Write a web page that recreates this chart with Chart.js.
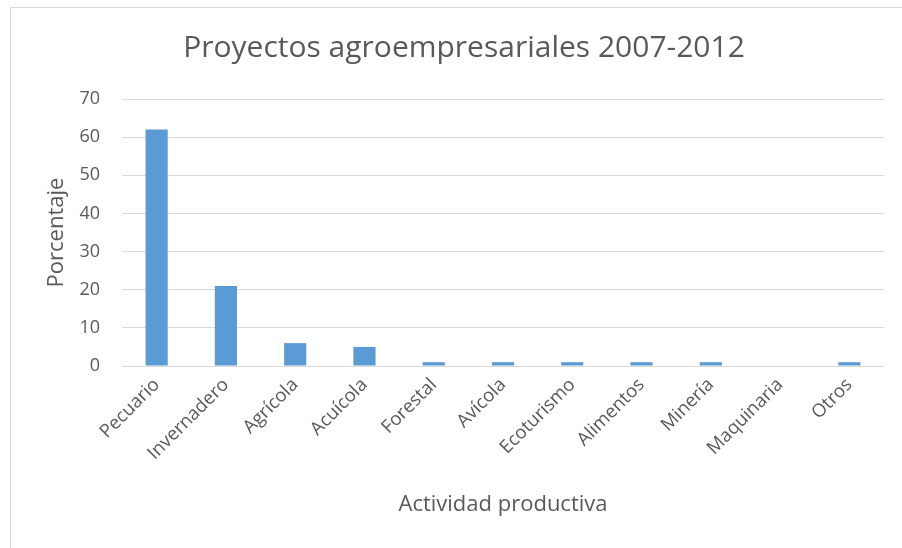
<!DOCTYPE html>
<html lang="es">
<head>
  <meta charset="UTF-8">
  <title>Proyectos agroempresariales 2007-2012</title>
  <script src="https://cdn.jsdelivr.net/npm/chart.js"></script>
  <style>
    body {
      margin: 0;
      background-color: #ffffff;
      font-family: "Open Sans", sans-serif;
    }
    .frame {
      position: absolute;
      left: 10px;
      top: 7px;
      width: 892px;
      height: 541px;
      border-left: 1px solid #d9d9d9;
      border-top: 1px solid #d9d9d9;
      box-sizing: border-box;
    }
    .chart-container {
      position: absolute;
      left: 0;
      top: 0;
      width: 902px;
      height: 548px;
    }
  </style>
</head>
<body>
  <div class="frame"></div>
  <div class="chart-container">
    <canvas id="agroChart"></canvas>
  </div>

  <script>
    // Data
    const categories = ["Pecuario", "Invernadero", "Agrícola", "Acuícola", "Forestal", "Avícola",
                        "Ecoturismo", "Alimentos", "Minería", "Maquinaria", "Otros"];
    const porcentaje = [62, 21, 6, 5, 1, 1, 1, 1, 1, 0, 1];
    const yTicks = [0, 10, 20, 30, 40, 50, 60, 70];

    const ctx = document.getElementById('agroChart').getContext('2d');
    new Chart(ctx, {
      type: 'bar',
      data: {
        labels: categories,
        datasets: [{
          label: "Porcentaje",
          data: porcentaje,
          backgroundColor: "#5b9bd5",
          borderWidth: 0,
          barPercentage: 0.32,
          categoryPercentage: 1.0
        }]
      },
      options: {
        responsive: true,
        maintainAspectRatio: false,
        animation: false,
        layout: {
          padding: { left: 44, right: 18, top: 0, bottom: 26 }
        },
        scales: {
          x: {
            grid: { display: false, drawTicks: false },
            border: { display: false },
            ticks: {
              color: "#595959",
              font: { family: "Open Sans", size: 18.5 },
              minRotation: 45,
              maxRotation: 45,
              padding: 8
            },
            title: {
              display: true,
              text: "Actividad productiva",
              color: "#595959",
              font: { family: "Open Sans", size: 22 },
              padding: { top: 4, bottom: 4 }
            },
            afterFit: axis => { axis.height = 156; }
          },
          y: {
            min: 0,
            max: 70,
            afterBuildTicks: axis => { axis.ticks = yTicks.map(v => ({ value: v })); },
            grid: { color: "#d9d9d9", lineWidth: 1, drawTicks: false },
            border: { display: false },
            ticks: {
              color: "#595959",
              font: { family: "Open Sans", size: 18 },
              padding: 22
            },
            title: {
              display: true,
              text: "Porcentaje",
              color: "#595959",
              font: { family: "Open Sans", size: 22 },
              padding: { top: 0, bottom: 0 }
            },
            afterFit: axis => { axis.width = 78; }
          }
        },
        plugins: {
          legend: { display: false },
          tooltip: { enabled: false },
          title: {
            display: true,
            text: "Proyectos agroempresariales 2007-2012",
            color: "#595959",
            font: { family: "Open Sans", size: 30, weight: "normal" },
            padding: { top: 30, bottom: 33 }
          }
        }
      }
    });
  </script>
</body>
</html>
